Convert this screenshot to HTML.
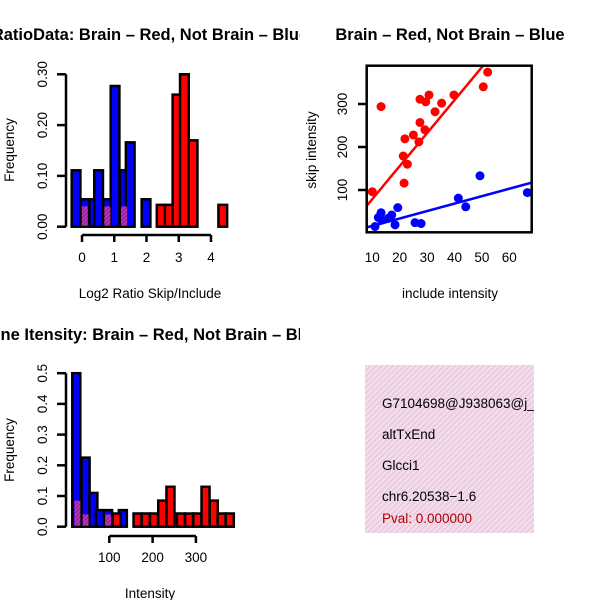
<!DOCTYPE html>
<html><head><meta charset="utf-8"><style>
body{margin:0;background:#fff;}
svg{display:block;font-family:"Liberation Sans",sans-serif;}
</style></head><body>
<svg id="c" width="600" height="600" viewBox="0 0 600 600">
<defs>
<pattern id="hatch" patternUnits="userSpaceOnUse" width="4" height="4" patternTransform="rotate(45)">
<rect width="4" height="4" fill="#fad8f2"/><rect width="1.2" height="4" fill="#d6d0cc"/></pattern>
<pattern id="ph" patternUnits="userSpaceOnUse" width="3" height="3" patternTransform="rotate(45)">
<rect width="3" height="3" fill="#a020a0"/><rect width="1" height="3" fill="#c040c0"/></pattern>
<clipPath id="left"><rect x="0" y="0" width="300" height="600"/></clipPath>
<clipPath id="sc"><rect x="366.7" y="65.7" width="165" height="166.6"/></clipPath>
<clipPath id="box"><rect x="365" y="365" width="169" height="168"/></clipPath>
</defs>
<g id="root"></g>
</svg>
<script>
// ---- Panel 1: ratio histogram (data units: log2 ratio, frequency)
const p1BinWidth = 0.27;
const p1BlueLeft = [-0.32,-0.04,0.23,0.38,0.66,0.89,1.18,1.36,1.85];
const p1BlueFreq = [0.111,0.054,0.054,0.111,0.054,0.277,0.111,0.166,0.054];
const p1RedLeft = [2.32,2.57,2.81,3.04,3.31,4.23];
const p1RedFreq = [0.043,0.043,0.26,0.30,0.17,0.043];
const p1PurpleLeft = [-0.04,0.66,1.18];
const p1PurpleFreq = [0.04,0.04,0.04];
const p1XTicks = [0,1,2,3,4];
const p1YTicks = ["0.00","0.10","0.20","0.30"];
// ---- Panel 2: scatter
const redInc = [10,13.2,52.1,50.5,27.4,30.7,29.5,39.8,35.3,32.9,27.4,29.2,25,21.9,27,21.3,22.8,21.6];
const redSkip = [96,294,374,340,311,321,305,321,302,282,257,240,228,219,212,179,160,116];
const blueInc = [49.3,41.4,44.1,66.6,19.3,13.2,12.2,15.8,18.3,11,25.6,27.8,17.1,13.4];
const blueSkip = [133,81,61,94,59,47,36,34,19,15,24,22,42,30];
const redFit = [2.2,7.67];
const blueFit = [-0.8,1.73];
const p2XTicks = [10,20,30,40,50,60];
const p2YTicks = [100,200,300];
// ---- Panel 3: intensity histogram
const p3BinWidth = 18.5;
const p3BlueLeft = [14.5,36,54,69,88,122];
const p3BlueFreq = [0.5,0.225,0.11,0.054,0.054,0.054];
const p3RedLeft = [108,156,175,194,213,232,256,275,294,313,332,350,369];
const p3RedFreq = [0.043,0.043,0.043,0.043,0.085,0.13,0.043,0.043,0.043,0.13,0.085,0.043,0.043];
const p3PurpleLeft = [17,36,88];
const p3PurpleFreq = [0.085,0.04,0.04];
const p3XTicks = [100,200,300];
const p3YTicks = ["0.0","0.1","0.2","0.3","0.4","0.5"];

const NS="http://www.w3.org/2000/svg";
const root=document.getElementById('root');
function mk(tag,attrs,parent){const e=document.createElementNS(NS,tag);for(const k in attrs)e.setAttribute(k,attrs[k]);(parent||root).appendChild(e);return e;}
function txt(s,x,y,opt,parent){const e=mk('text',Object.assign({x:x,y:y,'font-size':13.5,'text-anchor':'middle',fill:'#000'},opt||{}),parent);e.textContent=s;return e;}
const TS={'font-size':16.5,'font-weight':'bold'};

// Panel 1
const x1=v=>82+v*32.25, y1=v=>226.7-v*(152.4/0.30);
const g1=mk('g',{'clip-path':'url(#left)'});


function bars(g,lefts,vals,w,xs,ys,fill,name){lefts.forEach((l,i)=>{const r=mk('rect',{x:xs(l),y:ys(vals[i]),width:xs(l+w)-xs(l),height:ys(0)-ys(vals[i]),fill:fill,stroke:'#000','stroke-width':2.5},g);

});}
bars(g1,p1BlueLeft,p1BlueFreq,p1BinWidth,x1,y1,'#0000ff','blue-bar');
bars(g1,p1RedLeft,p1RedFreq,p1BinWidth,x1,y1,'#ff0000','red-bar');
p1PurpleLeft.forEach((l,i)=>{const r=mk('rect',{x:x1(l)+1,y:y1(p1PurpleFreq[i]),width:x1(l+p1BinWidth*0.7)-x1(l),height:y1(0)-y1(p1PurpleFreq[i])-1,fill:'url(#ph)'},g1);

});
mk('line',{x1:66,x2:66,y1:y1(0.30),y2:y1(0),stroke:'#000','stroke-width':2.5},g1);
p1YTicks.forEach(t=>{const v=parseFloat(t);mk('line',{x1:57,x2:66,y1:y1(v),y2:y1(v),stroke:'#000','stroke-width':2.5},g1);
txt(t,0,0,{transform:`translate(47,${y1(v)}) rotate(-90)`},g1);});
mk('line',{x1:x1(0),x2:x1(4),y1:235,y2:235,stroke:'#000','stroke-width':2.5},g1);
p1XTicks.forEach(t=>{mk('line',{x1:x1(t),x2:x1(t),y1:235,y2:242,stroke:'#000','stroke-width':2.5},g1);txt(String(t),x1(t),262,{},g1);});
txt('Log2 Ratio Skip/Include',150,298,{},g1);
txt('Frequency',0,0,{transform:'translate(14,150) rotate(-90)'},g1);
txt('RatioData: Brain – Red, Not Brain – Blue',150,40,TS,g1);

// Panel 2
const x2=v=>372.3+(v-10)*2.74, y2=v=>190-(v-100)*0.43;
const g2=mk('g',{});


const gc=mk('g',{'clip-path':'url(#sc)'},g2);
const rl=mk('line',{x1:x2(5),y1:y2(redFit[0]+redFit[1]*5),x2:x2(70),y2:y2(redFit[0]+redFit[1]*70),stroke:'#ff0000','stroke-width':2.5},gc);


const bl=mk('line',{x1:x2(5),y1:y2(blueFit[0]+blueFit[1]*5),x2:x2(70),y2:y2(blueFit[0]+blueFit[1]*70),stroke:'#0000ff','stroke-width':2.5},gc);


redInc.forEach((v,i)=>{const c=mk('circle',{cx:x2(v),cy:y2(redSkip[i]),r:4.5,fill:'#ff0000'},gc);

});
blueInc.forEach((v,i)=>{const c=mk('circle',{cx:x2(v),cy:y2(blueSkip[i]),r:4.5,fill:'#0000ff'},gc);

});
mk('rect',{x:366.7,y:65.7,width:165,height:166.6,fill:'none',stroke:'#000','stroke-width':2.5},g2);
p2YTicks.forEach(t=>{mk('line',{x1:358,x2:366.7,y1:y2(t),y2:y2(t),stroke:'#000','stroke-width':2.5},g2);txt(String(t),0,0,{transform:`translate(347,${y2(t)}) rotate(-90)`},g2);});
p2XTicks.forEach(t=>{txt(String(t),x2(t),262,{},g2);});
txt('include intensity',450,298,{},g2);
txt('skip intensity',0,0,{transform:'translate(316,150) rotate(-90)'},g2);
txt('Brain – Red, Not Brain – Blue',450,40,TS,g2);

// Panel 3
const x3=v=>66+v*0.433, y3=v=>526.7-v*307;
const g3=mk('g',{'clip-path':'url(#left)'});


bars(g3,p3BlueLeft,p3BlueFreq,p3BinWidth,x3,y3,'#0000ff','blue-bar');
bars(g3,p3RedLeft,p3RedFreq,p3BinWidth,x3,y3,'#ff0000','red-bar');
p3PurpleLeft.forEach((l,i)=>{const r=mk('rect',{x:x3(l)+1,y:y3(p3PurpleFreq[i]),width:x3(l+p3BinWidth*0.75)-x3(l),height:y3(0)-y3(p3PurpleFreq[i])-1,fill:'url(#ph)'},g3);

});
mk('line',{x1:66,x2:66,y1:y3(0.5),y2:y3(0),stroke:'#000','stroke-width':2.5},g3);
p3YTicks.forEach(t=>{const v=parseFloat(t);mk('line',{x1:57,x2:66,y1:y3(v),y2:y3(v),stroke:'#000','stroke-width':2.5},g3);
txt(t,0,0,{transform:`translate(47,${y3(v)}) rotate(-90)`},g3);});
mk('line',{x1:x3(100),x2:x3(300),y1:536,y2:536,stroke:'#000','stroke-width':2.5},g3);
p3XTicks.forEach(t=>{mk('line',{x1:x3(t),x2:x3(t),y1:536,y2:543,stroke:'#000','stroke-width':2.5},g3);txt(String(t),x3(t),562,{},g3);});
txt('Intensity',150,598,{},g3);
txt('Frequency',0,0,{transform:'translate(14,450) rotate(-90)'},g3);
txt('Gene Itensity: Brain – Red, Not Brain – Blue',150,340,TS,g3);

// Info box
const g4=mk('g',{'clip-path':'url(#box)'});


mk('rect',{x:365,y:365,width:169,height:168,fill:'url(#hatch)'},g4);
const lines=[['G7104698@J938063@j_',408,'#000'],['altTxEnd',439,'#000'],['Glcci1',470,'#000'],['chr6.20538−1.6',501,'#000'],['Pval: 0.000000',523,'#b00000']];
lines.forEach(l=>txt(l[0],382,l[1],{'text-anchor':'start',fill:l[2]},g4));
</script>
</body></html>
